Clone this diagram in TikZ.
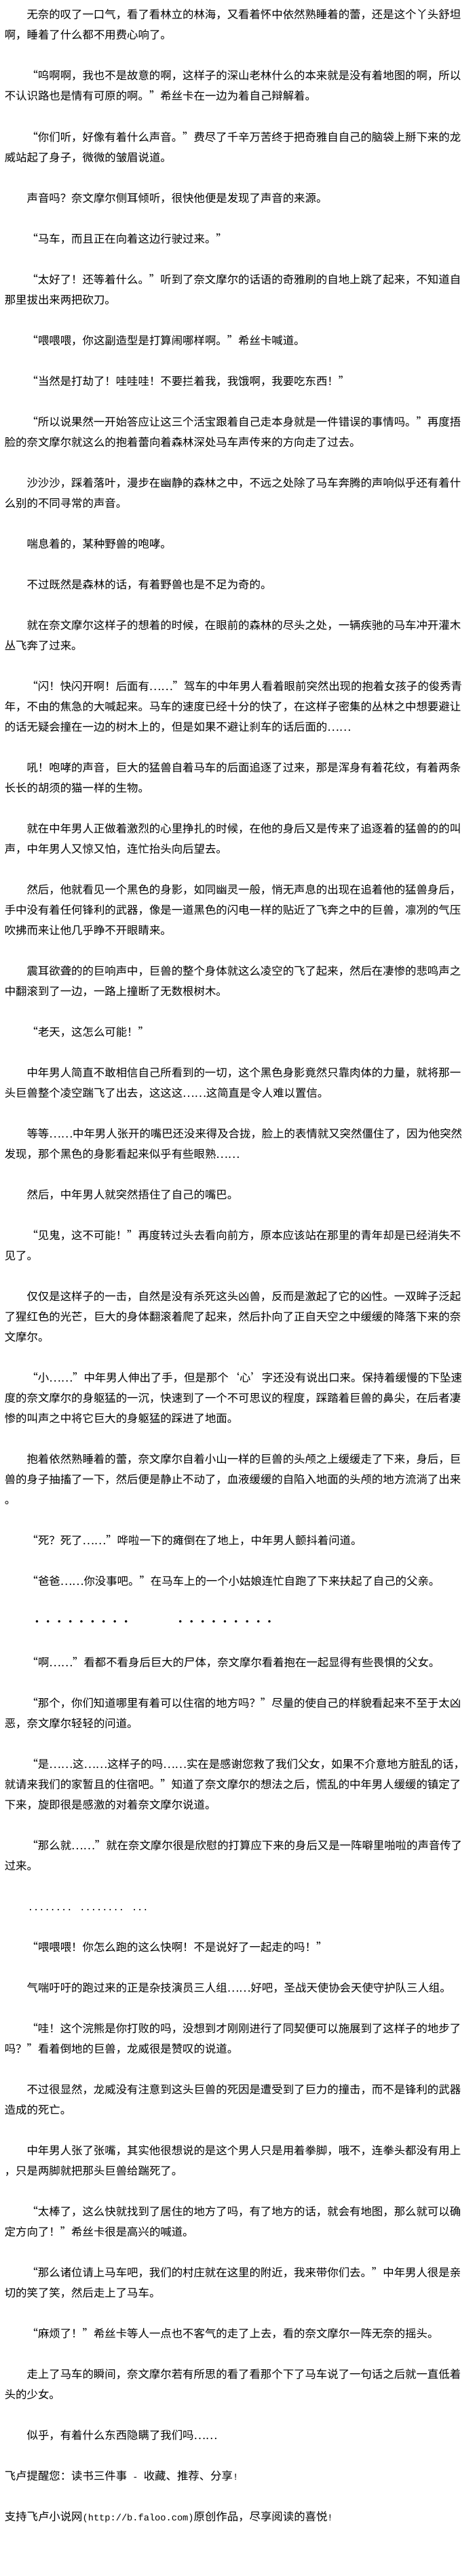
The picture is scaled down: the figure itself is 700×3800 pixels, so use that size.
\documentclass[tikz,border=0pt]{standalone}
\usepackage{fontspec}
\setmainfont{Noto Sans CJK SC}[RawFeature={+fwid}]
\newfontfamily\monof{Liberation Mono}
\XeTeXlinebreaklocale "zh"
\XeTeXlinebreakskip=0pt plus 1pt
\newcommand\jline[1]{\hbox to 686pt{#1}}
\newcommand\jind[1]{\hbox to 686pt{\kern32.8pt #1}}
\newcommand\asc[1]{{\monof\fontsize{13.67pt}{16pt}\selectfont #1}}
\tikzset{
  ln/.style={anchor=base west, inner sep=0pt, outer sep=0pt, font=\fontsize{16.4pt}{20pt}\selectfont, text=black},
}
\begin{document}
\begin{tikzpicture}[x=1pt,y=1pt]
\fill[white] (0,0) rectangle (700,-3800);
\useasboundingbox (0,0) rectangle (700,-3800);
\node[ln] (l0) at (6.8,-28) {\jind{无奈的叹了一口气，看了看林立的林海，又看着怀中依然熟睡着的蕾，还是这个丫头舒坦}};
\node[ln] (l1) at (6.8,-58) {啊，睡着了什么都不用费心响了。};
\node[ln] (l3) at (6.8,-118) {\jind{“呜啊啊，我也不是故意的啊，这样子的深山老林什么的本来就是没有着地图的啊，所以}};
\node[ln] (l4) at (6.8,-148) {不认识路也是情有可原的啊。”希丝卡在一边为着自己辩解着。};
\node[ln] (l6) at (6.8,-208) {\jind{“你们听，好像有着什么声音。”费尽了千辛万苦终于把奇雅自自己的脑袋上掰下来的龙}};
\node[ln] (l7) at (6.8,-238) {威站起了身子，微微的皱眉说道。};
\node[ln] (l9) at (39.6,-298) {声音吗？奈文摩尔侧耳倾听，很快他便是发现了声音的来源。};
\node[ln] (l11) at (39.6,-358) {“马车，而且正在向着这边行驶过来。”};
\node[ln] (l13) at (6.8,-418) {\jind{“太好了！还等着什么。”听到了奈文摩尔的话语的奇雅刷的自地上跳了起来，不知道自}};
\node[ln] (l14) at (6.8,-448) {那里拔出来两把砍刀。};
\node[ln] (l16) at (39.6,-508) {“喂喂喂，你这副造型是打算闹哪样啊。”希丝卡喊道。};
\node[ln] (l18) at (39.6,-568) {“当然是打劫了！哇哇哇！不要拦着我，我饿啊，我要吃东西！”};
\node[ln] (l20) at (6.8,-628) {\jind{“所以说果然一开始答应让这三个活宝跟着自己走本身就是一件错误的事情吗。”再度捂}};
\node[ln] (l21) at (6.8,-658) {脸的奈文摩尔就这么的抱着蕾向着森林深处马车声传来的方向走了过去。};
\node[ln] (l23) at (6.8,-718) {\jind{沙沙沙，踩着落叶，漫步在幽静的森林之中，不远之处除了马车奔腾的声响似乎还有着什}};
\node[ln] (l24) at (6.8,-748) {么别的不同寻常的声音。};
\node[ln] (l26) at (39.6,-808) {喘息着的，某种野兽的咆哮。};
\node[ln] (l28) at (39.6,-868) {不过既然是森林的话，有着野兽也是不足为奇的。};
\node[ln] (l30) at (6.8,-928) {\jind{就在奈文摩尔这样子的想着的时候，在眼前的森林的尽头之处，一辆疾驰的马车冲开灌木}};
\node[ln] (l31) at (6.8,-958) {丛飞奔了过来。};
\node[ln] (l33) at (6.8,-1018) {\jind{“闪！快闪开啊！后面有……”驾车的中年男人看着眼前突然出现的抱着女孩子的俊秀青}};
\node[ln] (l34) at (6.8,-1048) {\jline{年，不由的焦急的大喊起来。马车的速度已经十分的快了，在这样子密集的丛林之中想要避让}};
\node[ln] (l35) at (6.8,-1078) {的话无疑会撞在一边的树木上的，但是如果不避让刹车的话后面的……};
\node[ln] (l37) at (6.8,-1138) {\jind{吼！咆哮的声音，巨大的猛兽自着马车的后面追逐了过来，那是浑身有着花纹，有着两条}};
\node[ln] (l38) at (6.8,-1168) {长长的胡须的猫一样的生物。};
\node[ln] (l40) at (6.8,-1228) {\jind{就在中年男人正做着激烈的心里挣扎的时候，在他的身后又是传来了追逐着的猛兽的的叫}};
\node[ln] (l41) at (6.8,-1258) {声，中年男人又惊又怕，连忙抬头向后望去。};
\node[ln] (l43) at (6.8,-1318) {\jind{然后，他就看见一个黑色的身影，如同幽灵一般，悄无声息的出现在追着他的猛兽身后，}};
\node[ln] (l44) at (6.8,-1348) {\jline{手中没有着任何锋利的武器，像是一道黑色的闪电一样的贴近了飞奔之中的巨兽，凛冽的气压}};
\node[ln] (l45) at (6.8,-1378) {吹拂而来让他几乎睁不开眼睛来。};
\node[ln] (l47) at (6.8,-1438) {\jind{震耳欲聋的的巨响声中，巨兽的整个身体就这么凌空的飞了起来，然后在凄惨的悲鸣声之}};
\node[ln] (l48) at (6.8,-1468) {中翻滚到了一边，一路上撞断了无数根树木。};
\node[ln] (l50) at (39.6,-1528) {“老天，这怎么可能！”};
\node[ln] (l52) at (6.8,-1588) {\jind{中年男人简直不敢相信自己所看到的一切，这个黑色身影竟然只靠肉体的力量，就将那一}};
\node[ln] (l53) at (6.8,-1618) {头巨兽整个凌空踹飞了出去，这这这……这简直是令人难以置信。};
\node[ln] (l55) at (6.8,-1678) {\jind{等等……中年男人张开的嘴巴还没来得及合拢，脸上的表情就又突然僵住了，因为他突然}};
\node[ln] (l56) at (6.8,-1708) {发现，那个黑色的身影看起来似乎有些眼熟……};
\node[ln] (l58) at (39.6,-1768) {然后，中年男人就突然捂住了自己的嘴巴。};
\node[ln] (l60) at (6.8,-1828) {\jind{“见鬼，这不可能！”再度转过头去看向前方，原本应该站在那里的青年却是已经消失不}};
\node[ln] (l61) at (6.8,-1858) {见了。};
\node[ln] (l63) at (6.8,-1918) {\jind{仅仅是这样子的一击，自然是没有杀死这头凶兽，反而是激起了它的凶性。一双眸子泛起}};
\node[ln] (l64) at (6.8,-1948) {\jline{了猩红色的光芒，巨大的身体翻滚着爬了起来，然后扑向了正自天空之中缓缓的降落下来的奈}};
\node[ln] (l65) at (6.8,-1978) {文摩尔。};
\node[ln] (l67) at (6.8,-2038) {\jind{“小……”中年男人伸出了手，但是那个‘心’字还没有说出口来。保持着缓慢的下坠速}};
\node[ln] (l68) at (6.8,-2068) {\jline{度的奈文摩尔的身躯猛的一沉，快速到了一个不可思议的程度，踩踏着巨兽的鼻尖，在后者凄}};
\node[ln] (l69) at (6.8,-2098) {惨的叫声之中将它巨大的身躯猛的踩进了地面。};
\node[ln] (l71) at (6.8,-2158) {\jind{抱着依然熟睡着的蕾，奈文摩尔自着小山一样的巨兽的头颅之上缓缓走了下来，身后，巨}};
\node[ln] (l72) at (6.8,-2188) {\jline{兽的身子抽搐了一下，然后便是静止不动了，血液缓缓的自陷入地面的头颅的地方流淌了出来}};
\node[ln] (l73) at (6.8,-2218) {。};
\node[ln] (l75) at (39.6,-2278) {“死？死了……”哗啦一下的瘫倒在了地上，中年男人颤抖着问道。};
\node[ln] (l77) at (39.6,-2338) {“爸爸……你没事吧。”在马车上的一个小姑娘连忙自跑了下来扶起了自己的父亲。};
\node[ln] (l79a) at (46.3,-2398) {・・・・・・・・・};
\node[ln] (l79b) at (257.7,-2398) {・・・・・・・・・};
\node[ln] (l81) at (39.6,-2458) {“啊……”看都不看身后巨大的尸体，奈文摩尔看着抱在一起显得有些畏惧的父女。};
\node[ln] (l83) at (6.8,-2518) {\jind{“那个，你们知道哪里有着可以住宿的地方吗？”尽量的使自己的样貌看起来不至于太凶}};
\node[ln] (l84) at (6.8,-2548) {恶，奈文摩尔轻轻的问道。};
\node[ln] (l86) at (6.8,-2608) {\jind{“是……这……这样子的吗……实在是感谢您救了我们父女，如果不介意地方脏乱的话，}};
\node[ln] (l87) at (6.8,-2638) {\jline{就请来我们的家暂且的住宿吧。”知道了奈文摩尔的想法之后，慌乱的中年男人缓缓的镇定了}};
\node[ln] (l88) at (6.8,-2668) {下来，旋即很是感激的对着奈文摩尔说道。};
\node[ln] (l90) at (6.8,-2728) {\jind{“那么就……”就在奈文摩尔很是欣慰的打算应下来的身后又是一阵噼里啪啦的声音传了}};
\node[ln] (l91) at (6.8,-2758) {过来。};
\node[ln] (l93) at (40.9,-2818) {\asc{........ ........ ...}};
\node[ln] (l95) at (39.6,-2878) {“喂喂喂！你怎么跑的这么快啊！不是说好了一起走的吗！”};
\node[ln] (l97) at (39.6,-2938) {气喘吁吁的跑过来的正是杂技演员三人组……好吧，圣战天使协会天使守护队三人组。};
\node[ln] (l99) at (6.8,-2998) {\jind{“哇！这个浣熊是你打败的吗，没想到才刚刚进行了同契便可以施展到了这样子的地步了}};
\node[ln] (l100) at (6.8,-3028) {吗？”看着倒地的巨兽，龙威很是赞叹的说道。};
\node[ln] (l102) at (6.8,-3088) {\jind{不过很显然，龙威没有注意到这头巨兽的死因是遭受到了巨力的撞击，而不是锋利的武器}};
\node[ln] (l103) at (6.8,-3118) {造成的死亡。};
\node[ln] (l105) at (6.8,-3178) {\jind{中年男人张了张嘴，其实他很想说的是这个男人只是用着拳脚，哦不，连拳头都没有用上}};
\node[ln] (l106) at (6.8,-3208) {，只是两脚就把那头巨兽给踹死了。};
\node[ln] (l108) at (6.8,-3268) {\jind{“太棒了，这么快就找到了居住的地方了吗，有了地方的话，就会有地图，那么就可以确}};
\node[ln] (l109) at (6.8,-3298) {定方向了！”希丝卡很是高兴的喊道。};
\node[ln] (l111) at (6.8,-3358) {\jind{“那么诸位请上马车吧，我们的村庄就在这里的附近，我来带你们去。”中年男人很是亲}};
\node[ln] (l112) at (6.8,-3388) {切的笑了笑，然后走上了马车。};
\node[ln] (l114) at (39.6,-3448) {“麻烦了！”希丝卡等人一点也不客气的走了上去，看的奈文摩尔一阵无奈的摇头。};
\node[ln] (l116) at (6.8,-3508) {\jind{走上了马车的瞬间，奈文摩尔若有所思的看了看那个下了马车说了一句话之后就一直低着}};
\node[ln] (l117) at (6.8,-3538) {头的少女。};
\node[ln] (l119) at (39.6,-3598) {似乎，有着什么东西隐瞒了我们吗……};
\node[ln] (l121) at (6.8,-3658) {飞卢提醒您：读书三件事\asc{ - }收藏、推荐、分享\asc{!}};
\node[ln] (l123) at (6.8,-3718) {支持飞卢小说网\asc{(http://b.faloo.com)}原创作品，尽享阅读的喜悦\asc{!}};
\end{tikzpicture}
\end{document}
